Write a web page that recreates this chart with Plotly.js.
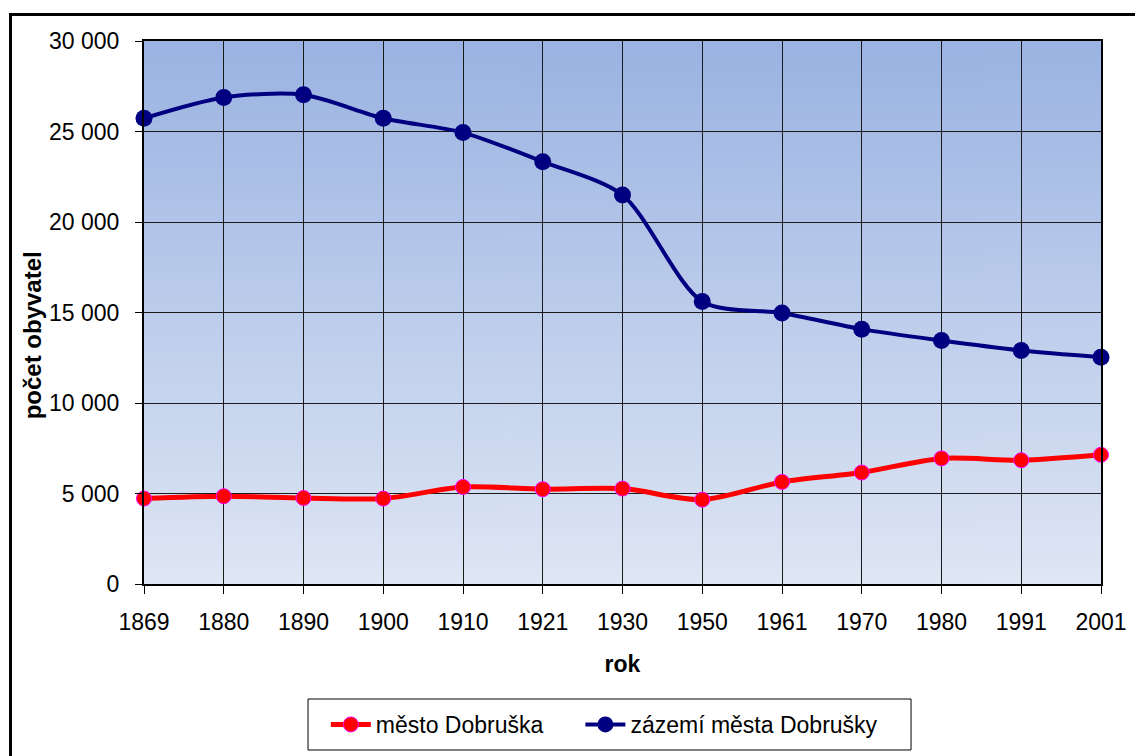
<!DOCTYPE html>
<html>
<head>
<meta charset="utf-8">
<script src="https://cdn.plot.ly/plotly-3.0.1.min.js"></script>
<style>
  html, body { margin: 0; padding: 0; background: #ffffff; overflow: hidden; }
  #frame { position: absolute; left: 9px; top: 13px; width: 1300px; height: 900px;
           border: 3px solid #000; box-sizing: border-box; pointer-events: none; }
  #chart { position: absolute; left: 0; top: 0; width: 1135px; height: 756px; }
</style>
</head>
<body>
<div id="frame"></div>
<div id="chart"></div>
<script>
// Data
const years = ['1869','1880','1890','1900','1910','1921','1930','1950','1961','1970','1980','1991','2001'];
const mestoDobruska = [4720, 4850, 4750, 4720, 5360, 5240, 5270, 4660, 5640, 6160, 6940, 6840, 7140];
const zazemiDobrusky = [25730, 26880, 27030, 25730, 24940, 23330, 21490, 15610, 14970, 14080, 13450, 12900, 12530];
const seriesNames = ['město Dobruška', 'zázemí města Dobrušky'];
const xTitle = 'rok';
const yTitle = 'počet obyvatel';

// vertical gradient for plot background
function gradientURI() {
  const c = document.createElement('canvas');
  c.width = 4; c.height = 400;
  const g = c.getContext('2d');
  const gr = g.createLinearGradient(0, 0, 0, 400);
  gr.addColorStop(0, '#9AB3E2');
  gr.addColorStop(1, '#DFE6F4');
  g.fillStyle = gr;
  g.fillRect(0, 0, 4, 400);
  return c.toDataURL('image/png');
}

const font = 'Liberation Sans, Arial, sans-serif';

const traces = [
  {
    x: years, y: mestoDobruska, name: seriesNames[0], type: 'scatter', mode: 'lines+markers',
    line: { color: '#FF0000', width: 5, shape: 'spline', smoothing: 0.8 },
    marker: { color: '#FF0000', size: 15, line: { color: '#FF00FF', width: 1 } },
    cliponaxis: false, legend: 'legend'
  },
  {
    x: years, y: zazemiDobrusky, name: seriesNames[1], type: 'scatter', mode: 'lines+markers',
    line: { color: '#000080', width: 4, shape: 'spline', smoothing: 0.8 },
    marker: { color: '#000080', size: 17 },
    cliponaxis: false, legend: 'legend2'
  }
];

const legendCommon = {
  orientation: 'h', y: -0.2587, yanchor: 'middle',
  bgcolor: 'rgba(0,0,0,0)', borderwidth: 0,
  font: { size: 23, family: font, color: '#000' },
  itemwidth: 40
};

const layout = {
  width: 1135, height: 756,
  margin: { l: 144, r: 34, t: 41, b: 172, autoexpand: false },
  paper_bgcolor: 'rgba(0,0,0,0)',
  plot_bgcolor: 'rgba(0,0,0,0)',
  separators: ', ',
  font: { family: font, color: '#000' },
  showlegend: true,
  images: [{
    source: gradientURI(), xref: 'paper', yref: 'paper', x: 0, y: 1,
    sizex: 1, sizey: 1, sizing: 'stretch', layer: 'below', xanchor: 'left', yanchor: 'top'
  }],
  shapes: [{
    type: 'rect', xref: 'paper', yref: 'paper',
    x0: 0.1714, x1: 0.8015, y0: -0.3057, y1: -0.2118,
    line: { color: '#000', width: 1 }, fillcolor: '#fff', layer: 'below'
  }],
  xaxis: {
    type: 'category', range: [0, 12], fixedrange: true,
    showgrid: true, gridcolor: '#1a1a1a', gridwidth: 1,
    showline: true, linecolor: '#000', linewidth: 2, mirror: true,
    ticks: 'outside', ticklen: 8, tickcolor: '#000', tickwidth: 1,
    tickfont: { size: 23, family: font, color: '#000' },
    ticklabelstandoff: 8,
    title: { text: xTitle, font: { size: 23, family: font, color: '#000', weight: 'bold' }, standoff: 22 },
    zeroline: false, automargin: false
  },
  yaxis: {
    range: [0, 30000], dtick: 5000, tick0: 0, tickformat: ',d', fixedrange: true,
    showgrid: true, gridcolor: '#1a1a1a', gridwidth: 1,
    showline: true, linecolor: '#000', linewidth: 2, mirror: true,
    ticks: 'outside', ticklen: 7, tickcolor: '#000', tickwidth: 1,
    tickfont: { size: 23, family: font, color: '#000' },
    ticklabelstandoff: 11,
    zeroline: false, automargin: false
  },
  annotations: [{
    text: '<b>' + yTitle + '</b>', xref: 'paper', yref: 'paper',
    x: -0.117, y: 0.458, xanchor: 'center', yanchor: 'middle', textangle: -90,
    showarrow: false, font: { size: 24, family: font, color: '#000' }
  }],
  legend: Object.assign({}, legendCommon, { x: 0.190, xanchor: 'left' }),
  legend2: Object.assign({}, legendCommon, { x: 0.456, xanchor: 'left' })
};

Plotly.newPlot('chart', traces, layout, { displayModeBar: false, staticPlot: true });
</script>
</body>
</html>
